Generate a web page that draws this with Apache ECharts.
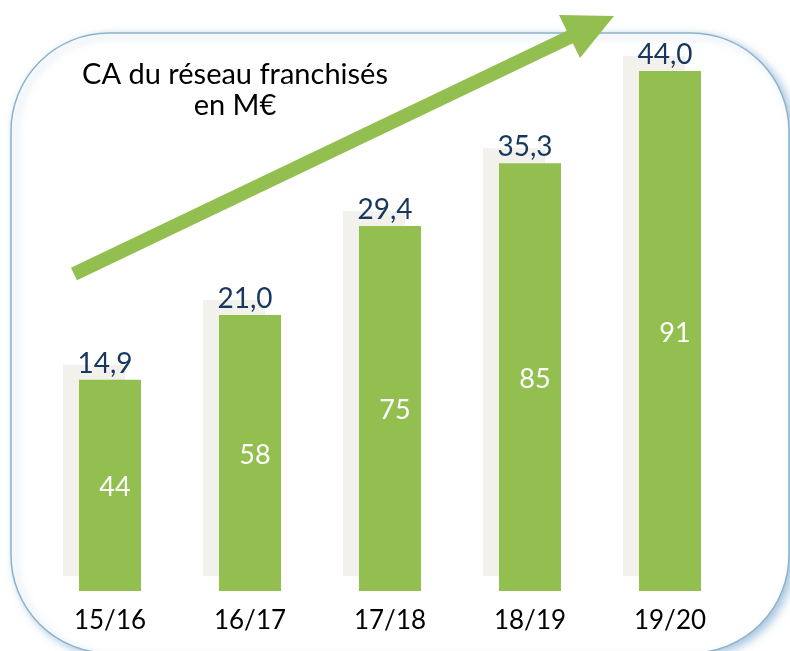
<!DOCTYPE html>
<html>
<head>
<meta charset="utf-8">
<script src="https://cdn.jsdelivr.net/npm/echarts@6/dist/echarts.min.js"></script>
<style>
  html, body { margin: 0; padding: 0; background: #fff; }
  #main { width: 790px; height: 651px; }
</style>
</head>
<body>
<div id="main"></div>
<script>
// data
var seasons = ['15/16', '16/17', '17/18', '18/19', '19/20'];
var caMillions = [14.9, 21.0, 29.4, 35.3, 44.0];   // CA du réseau, M€ (label above bar)
var franchises = [44, 58, 75, 85, 91];              // number inside bar

var green = '#92bf4f';
var navy = '#17375e';
var font = 'Lato';

function frNumber(v) {
  return v.toFixed(1).replace('.', ',');
}

var chart = echarts.init(document.getElementById('main'));
chart.setOption({
  animation: false,
  backgroundColor: '#fff',
  grid: { left: 40, right: 50, top: 71, bottom: 60 },
  xAxis: {
    type: 'category',
    data: seasons,
    axisLine: { show: false },
    axisTick: { show: false },
    axisLabel: { color: '#000', fontSize: 26, fontFamily: font, margin: 17 }
  },
  yAxis: {
    type: 'value',
    min: -5,
    max: 44,
    startValue: -5,
    show: false,
    splitLine: { show: false }
  },
  graphic: [
    {
      // rounded frame
      type: 'rect',
      z: -10,
      shape: { x: 11, y: 33, width: 778, height: 620, r: 98 },
      style: {
        fill: '#fff',
        stroke: '#8db3cc',
        lineWidth: 1.5,
        shadowColor: 'rgba(110,160,200,0.6)',
        shadowBlur: 8,
        shadowOffsetX: 4,
        shadowOffsetY: 3
      }
    },
    {
      type: 'text',
      z: 10,
      style: {
        text: 'CA du réseau franchisés\nen M€',
        x: 235, y: 59,
        textAlign: 'center',
        fill: '#000',
        fontSize: 29,
        lineHeight: 31,
        fontFamily: font
      }
    },
    {
      // arrow shaft
      type: 'line',
      z: 5,
      shape: { x1: 74, y1: 274, x2: 572, y2: 36 },
      style: { stroke: green, lineWidth: 14 }
    },
    {
      // arrow head
      type: 'polygon',
      z: 5,
      shape: { points: [[559, 15], [614, 16], [580, 58]] },
      style: { fill: green }
    }
  ],
  series: [
    {
      name: 'Franchisés',
      type: 'bar',
      data: caMillions,
      barWidth: 62,
      itemStyle: {
        color: green,
        shadowColor: '#f2f1ec',
        shadowBlur: 0,
        shadowOffsetX: -16,
        shadowOffsetY: -15
      },
      label: {
        show: true,
        position: 'inside',
        offset: [5, 2],
        color: '#fff',
        fontSize: 27,
        fontFamily: font,
        formatter: function (p) { return franchises[p.dataIndex]; }
      },
      z: 2
    },
    {
      name: 'CA',
      type: 'bar',
      data: caMillions,
      barWidth: 62,
      barGap: '-100%',
      itemStyle: { color: 'rgba(0,0,0,0)' },
      label: {
        show: true,
        position: 'top',
        distance: 2,
        offset: [-5, 0],
        color: navy,
        fontSize: 28,
        fontFamily: font,
        formatter: function (p) { return frNumber(p.value); }
      },
      z: 3
    }
  ]
});
</script>
</body>
</html>
